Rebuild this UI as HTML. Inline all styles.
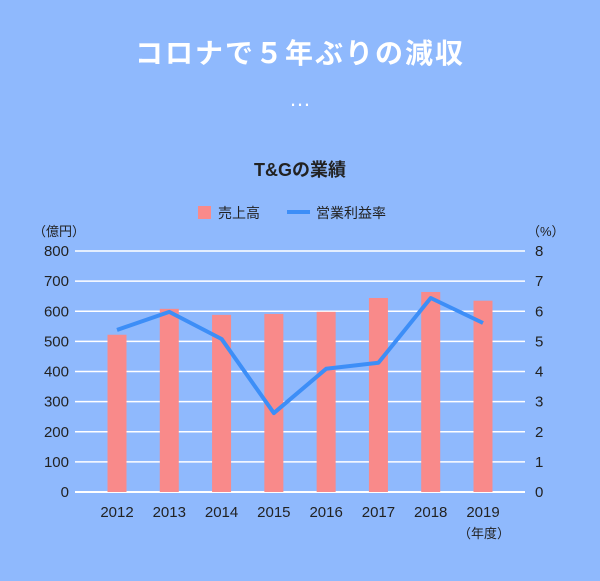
<!DOCTYPE html>
<html><head><meta charset="utf-8"><style>
body{margin:0;width:600px;height:581px;background:#8fb9fd;font-family:"Liberation Sans","Noto Sans CJK JP",sans-serif;overflow:hidden}
</style></head><body>
<svg width="600" height="581" style="position:absolute;left:0;top:0">
<text x="300" y="63" text-anchor="middle" fill="#fff" font-size="28" font-weight="bold" letter-spacing="2">コロナで５年ぶりの減収</text>
<text x="300" y="106" text-anchor="middle" fill="#fff" font-size="22">…</text>
<text x="300" y="176" text-anchor="middle" fill="#222" font-size="18" font-weight="bold">T&amp;Gの業績</text>
<g>
<rect x="198" y="206" width="13" height="13" fill="#f98a8a"/>
<text x="218" y="218" font-size="14" fill="#222">売上高</text>
<line x1="287" y1="212" x2="310" y2="212" stroke="#3d8ef7" stroke-width="4"/>
<text x="316" y="218" font-size="14" fill="#222">営業利益率</text>
</g>
<text x="33" y="236" font-size="13" fill="#222">（億円）</text>
<text x="527" y="236" font-size="13" fill="#222">（%）</text>
<text x="484" y="538" font-size="13" fill="#222" text-anchor="middle">（年度）</text>
<g id="grid"></g><g id="bars"></g><g id="line"></g><g id="labels"></g>
</svg>
<script>
const years=["2012","2013","2014","2015","2016","2017","2018","2019"];
const sales=[522,608,588,591,598,644,664,635];
const margin=[5.38,5.98,5.08,2.62,4.09,4.29,6.44,5.61];
const leftTicks=[0,100,200,300,400,500,600,700,800];
const rightTicks=[0,1,2,3,4,5,6,7,8];
const NS="http://www.w3.org/2000/svg";
const x0=75,x1=525,yTop=251,yBot=492;
const yL=v=>yBot-(v/800)*(yBot-yTop);
const yR=v=>yBot-(v/8)*(yBot-yTop);
const xC=i=>117+i*(483-117)/7;
function mk(t,a,p){const e=document.createElementNS(NS,t);for(const k in a)e.setAttribute(k,a[k]);document.getElementById(p).appendChild(e);return e;}
leftTicks.forEach((v,i)=>{
 const l=mk("line",{x1:x0,x2:x1,y1:yL(v),y2:yL(v),stroke:"#fff","stroke-width":i==0?2:1.5},"grid");
 
 
 const t=mk("text",{x:69,y:yL(v)+5,"text-anchor":"end","font-size":15,fill:"#222"},"labels");
 t.textContent=v;
 
 
});
rightTicks.forEach(v=>{
 const t=mk("text",{x:535,y:yR(v)+5,"font-size":15,fill:"#222"},"labels");
 t.textContent=v;
 
 
});
years.forEach((y,i)=>{
 const b=mk("rect",{x:xC(i)-9.5,y:yL(sales[i]),width:19,height:yBot-yL(sales[i]),fill:"#f98a8a"},"bars");
 
 
 const t=mk("text",{x:xC(i),y:517,"text-anchor":"middle","font-size":15,fill:"#222"},"labels");
 t.textContent=y;
 
 
});
const p=mk("polyline",{points:margin.map((v,i)=>xC(i)+","+yR(v)).join(" "),fill:"none",stroke:"#3d8ef7","stroke-width":4,"stroke-linejoin":"round"},"line");


</script>
</body></html>
